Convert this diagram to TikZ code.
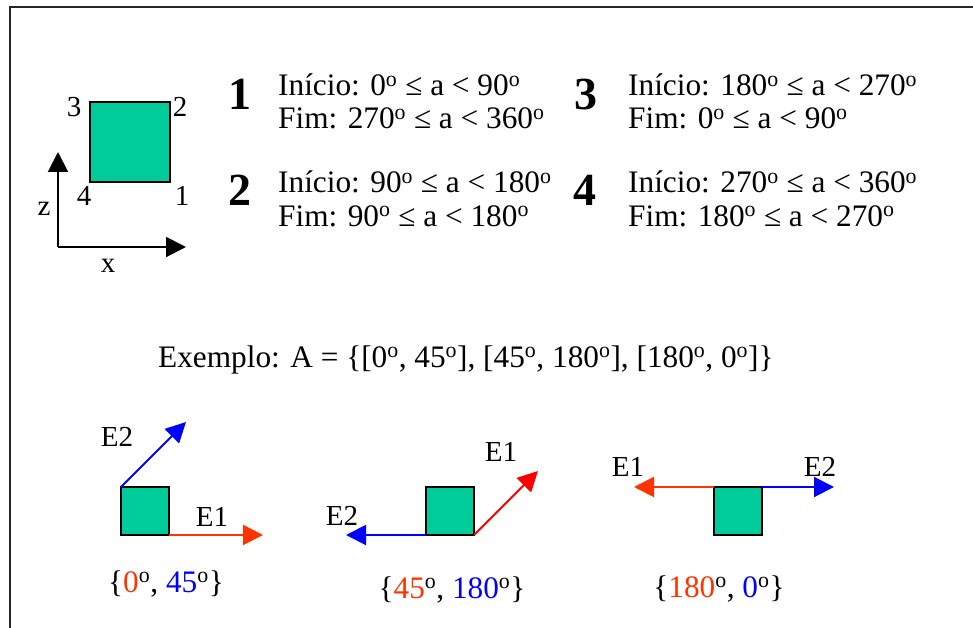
\documentclass[tikz,border=0pt]{standalone}
\usepackage{fontspec}
\setmainfont{Liberation Serif}
\usetikzlibrary{arrows.meta}
\definecolor{sqgreen}{HTML}{00CC99}
\definecolor{ered}{HTML}{FF3300}
\definecolor{pred}{HTML}{FF0000}
\definecolor{eblue}{HTML}{0000FF}
\newcommand{\dg}{\textsuperscript{o}}
\begin{document}
\begin{tikzpicture}[x=1pt,y=-1pt,
  txt/.style={inner sep=0pt, anchor=base west, font=\fontsize{31.3}{36}\selectfont},
  ctxt/.style={inner sep=0pt, anchor=base, font=\fontsize{31.3}{36}\selectfont},
  lbl/.style={inner sep=0pt, anchor=base, font=\fontsize{29}{34}\selectfont},
  elbl/.style={inner sep=0pt, font=\fontsize{29}{34}\selectfont},
  bignum/.style={inner sep=0pt, anchor=base, font=\fontsize{46}{50}\selectfont\bfseries},
  sqbox/.style={draw=black, fill=sqgreen, line width=1.6pt, minimum width=#1, minimum height=#1, inner sep=0pt, outer sep=0pt},
  axis/.style={line width=2pt, -{Triangle[length=20pt,width=20pt]}},
  vec/.style={line width=2pt, draw=#1, -{Triangle[length=20pt,width=20pt,fill=#1]}},
  frame/.style={line width=2pt, draw=black!85}]
\useasboundingbox (0,0) rectangle (973,628);
\fill[white] (0,0) rectangle (973,628);
% frame (only top and left edges visible)
\coordinate (fbl) at (10,628);
\coordinate (ftl) at (10,7);
\coordinate (ftr) at (973,7);
\draw[frame] (fbl) -- (ftl) -- (ftr);

% reference square with corner labels
\node[sqbox=80pt, anchor=north west] (ref) at (90,102) {};
\node[lbl] (c3) at (74,117) {3};
\node[lbl] (c2) at (180,117) {2};
\node[lbl] (c4) at (84,206) {4};
\node[lbl] (c1) at (182,206) {1};

% axes
\coordinate (orig) at (58,247);
\coordinate (ztip) at (58,152);
\coordinate (xtip) at (186,247);
\draw[axis] (orig) -- (ztip);
\draw[axis] (orig) -- (xtip);
\node[lbl] (zl) at (44,215) {z};
\node[lbl] (xl) at (108,272) {x};

% quadrant rules
\node[bignum] (n1) at (240,110) {1};
\node[bignum] (n2) at (240,206) {2};
\node[bignum] (n3) at (586,110) {3};
\node[bignum] (n4) at (585,206) {4};

\node[txt] (t1a) at (278,96) {Início: 0\dg{} ≤ a < 90\dg};
\node[txt] (t1b) at (278,129) {Fim: 270\dg{} ≤ a < 360\dg};
\node[txt] (t2a) at (278,193) {Início: 90\dg{} ≤ a < 180\dg};
\node[txt] (t2b) at (278,226) {Fim: 90\dg{} ≤ a < 180\dg};
\node[txt] (t3a) at (628,96) {Início: 180\dg{} ≤ a < 270\dg};
\node[txt] (t3b) at (628,129) {Fim: 0\dg{} ≤ a < 90\dg};
\node[txt] (t4a) at (628,193) {Início: 270\dg{} ≤ a < 360\dg};
\node[txt] (t4b) at (628,226) {Fim: 180\dg{} ≤ a < 270\dg};

% example
\node[txt] (ex) at (158,367) {Exemplo: A = \{[0\dg, 45\dg], [45\dg, 180\dg], [180\dg, 0\dg]\}};

% example 1
\node[sqbox=48pt, anchor=north west] (s1) at (121,487) {};
\coordinate (e1a) at (263,535);
\coordinate (e2a) at (186,422);
\draw[vec=ered] (s1.south east) -- (e1a);
\draw[vec=eblue] (s1.north west) -- (e2a);
\node[elbl] (l1e1) at (212,517) {E1};
\node[elbl] (l1e2) at (117,437) {E2};
\node[ctxt] (a1) at (166,592) {\{\textcolor{ered}{0}\dg, \textcolor{eblue}{45}\dg\}};

% example 2
\node[sqbox=48pt, anchor=north west] (s2) at (426,487) {};
\coordinate (e1b) at (538,471);
\coordinate (e2b) at (346,535);
\draw[vec=pred] (s2.south east) -- (e1b);
\draw[vec=eblue] (s2.south west) -- (e2b);
\node[elbl] (l2e1) at (501,452) {E1};
\node[elbl] (l2e2) at (342,516) {E2};
\node[ctxt] (a2) at (452,598) {\{\textcolor{ered}{45}\dg, \textcolor{eblue}{180}\dg\}};

% example 3
\node[sqbox=48pt, anchor=north west] (s3) at (714,487) {};
\coordinate (e1c) at (634,487);
\coordinate (e2c) at (834,487);
\draw[vec=ered] (s3.north west) -- (e1c);
\draw[vec=eblue] (s3.north east) -- (e2c);
\node[elbl] (l3e1) at (628,467) {E1};
\node[elbl] (l3e2) at (820,467) {E2};
\node[ctxt] (a3) at (719,597) {\{\textcolor{ered}{180}\dg, \textcolor{eblue}{0}\dg\}};
\end{tikzpicture}
\end{document}
